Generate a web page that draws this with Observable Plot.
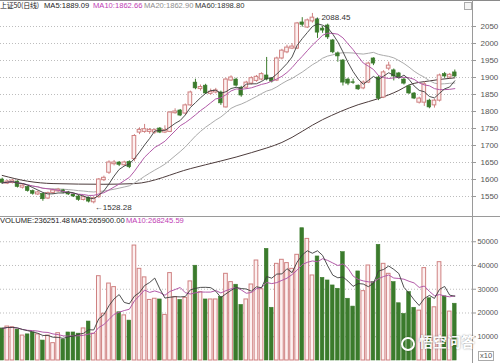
<!DOCTYPE html>
<html><head><meta charset="utf-8">
<script src="https://cdn.jsdelivr.net/npm/d3@7"></script>
<script src="https://cdn.jsdelivr.net/npm/@observablehq/plot@0.6"></script>
<style>
body{margin:0;background:#fff;}
#wrap{position:relative;width:500px;height:363px;overflow:hidden;font-family:"Liberation Sans",Arial,sans-serif;background:#fff;}
.t{position:absolute;font-size:7.6px;white-space:nowrap;line-height:1;}
.ln{position:absolute;background:#9a9a9a;}
#price,#vol{position:absolute;left:0;}
#price{top:0;} #vol{top:216px;}
</style></head><body><div id="wrap"><div id="price"></div><div id="vol"></div></div>
<script>
// ---- data ----
const opens = [1600,1588,1590,1594,1576,1578,1566,1556,1558,1544,
  1560,1565,1568,1562,1556,1550,1540,1546,1533,1548,
  1598,1620,1645,1650,1642,1652,1660,1738,1740,1740,
  1738,1750,1738,1740,1795,1803,1794,1818,1885,1866,
  1876,1852,1856,1856,1812,1891,1894,1870,1870,1882,
  1890,1894,1906,1897,1891,1956,1974,1985,1985,2062,
  2047,2065,2070,2044,2053,2009,1971,1950,1894,1886,
  1876,1868,1885,1956,1900,1841,1926,1921,1912,1894,
  1874,1853,1826,1826,1832,1818,1832,1910,1900,1915];
const closes = [1590,1594,1597,1578,1582,1566,1558,1562,1542,1560,
  1568,1570,1562,1556,1550,1540,1548,1535,1545,1600,
  1605,1650,1650,1643,1650,1636,1728,1746,1748,1746,
  1745,1738,1745,1797,1800,1788,1818,1856,1868,1872,
  1853,1858,1862,1824,1894,1900,1876,1847,1885,1898,
  1902,1910,1894,1888,1956,1979,1988,1991,2059,2055,
  2068,2076,2032,2038,2018,1974,1962,1885,1882,1884,
  1865,1885,1941,1941,1838,1915,1935,1903,1900,1882,
  1853,1838,1838,1880,1812,1832,1906,1903,1908,1903];
const highs = [1604,1598,1600,1596,1585,1580,1569,1566,1560,1563,
  1572,1574,1571,1565,1559,1553,1552,1549,1548,1603,
  1610,1655,1656,1653,1654,1655,1732,1752,1762,1750,
  1749,1753,1758,1800,1808,1806,1822,1860,1895,1878,
  1880,1866,1868,1860,1898,1905,1898,1874,1889,1902,
  1906,1914,1959,1900,1960,1983,1995,2000,2062,2076,
  2072,2088.45,2075,2050,2057,2012,1975,1953,1898,1895,
  1878,1890,1945,1958,1905,1920,1945,1925,1915,1898,
  1878,1856,1842,1886,1836,1836,1910,1915,1912,1922];
const lows = [1586,1585,1587,1575,1572,1563,1554,1553,1536,1541,
  1556,1562,1558,1553,1547,1536,1537,1531,1528.28,1545,
  1594,1615,1640,1638,1638,1632,1652,1732,1736,1733,
  1733,1735,1735,1738,1792,1785,1790,1815,1864,1860,
  1850,1848,1852,1818,1810,1888,1872,1842,1865,1878,
  1886,1890,1890,1884,1888,1952,1970,1982,1982,2048,
  2044,2060,2015,2030,2012,1970,1945,1875,1876,1880,
  1862,1864,1882,1935,1832,1838,1920,1890,1896,1878,
  1850,1835,1822,1815,1808,1810,1828,1898,1896,1900];
const volumes = [13500,14300,14000,13000,10500,11000,11800,11000,8400,10500,
  7300,11500,8800,11800,11800,11300,13500,16400,11300,35500,
  19700,32400,30900,20300,19000,16800,48400,38600,35000,25500,
  26000,25700,19200,36800,26700,25500,26400,33300,39900,28800,
  25700,25700,25700,26700,36500,33000,31900,23400,25700,32000,
  42100,30000,47000,22200,40700,42400,41000,38600,44500,55700,
  51200,35800,43800,34800,33700,31600,30200,45600,26000,22700,
  37500,29200,40000,33000,48700,40700,36500,33000,24100,19600,
  28800,22200,21000,38900,26200,22400,41400,27000,20600,23900];
// MA60 line (index, value)
const ma60Idx = [0,5,10,20,26,37,49,55,63,70,74,78,80,84,89];
const ma60Val = [1612,1595,1588,1586,1588,1632,1679,1709,1776,1820,1838,1862,1878,1890,1899];
const priceTicks = [1550,1600,1650,1700,1750,1800,1850,1900,1950,2050,2000];
const volTicks = [10000,20000,30000,40000,50000];
const hiLabel = {i: 61, v: 2088.45, text: "←2088.45"};
const loLabel = {i: 18, v: 1528.28, text: "←1528.28"};

// ---- build ----
const rows = opens.map((o, i) => ({i, open: o, close: closes[i], high: highs[i], low: lows[i], vol: volumes[i], up: closes[i] >= o}));
const ma60 = ma60Idx.map((i, k) => ({i, v: ma60Val[k]}));
const xDomain = [-0.334, 92.48];
const UP_S = "#cf8080", UP_F = "#fdf1f1", DN = "#3b7b2c";
const C5 = "#3c3c3c", C10 = "#b25aa8", C20 = "#ababab", C60 = "#4d3c3c";
const font = {fontFamily: "Liberation Sans, Arial, sans-serif", fontSize: "8px", background: "transparent", overflow: "visible"};

const price = Plot.plot({
  width: 500, height: 216, marginLeft: 0, marginRight: 28, marginTop: 0, marginBottom: 0,
  style: font,
  x: {domain: xDomain, axis: null},
  y: {domain: [1491.2, 2126.5], axis: null},
  marks: [
    Plot.gridY(priceTicks, {stroke: "#bdbdbd", strokeOpacity: 1, strokeDasharray: "1,2"}),
    Plot.axisY(priceTicks, {anchor: "right", tickSize: 3, tickPadding: 5, stroke: "#999", fill: "#555", fontSize: 8, label: null, tickFormat: d => String(d)}),
    Plot.lineY(ma60, {x: "i", y: "v", stroke: C60, strokeWidth: 1, curve: "monotone-x"}),
    Plot.lineY(rows, Plot.windowY({k: 20, anchor: "end"}, {x: "i", y: "close", stroke: C20, strokeWidth: 1})),
    Plot.ruleX(rows, {filter: d => d.up, x: "i", y1: "low", y2: "high", stroke: UP_S, strokeWidth: 1}),
    Plot.ruleX(rows, {filter: d => !d.up, x: "i", y1: "low", y2: "high", stroke: DN, strokeWidth: 1}),
    Plot.rect(rows, {filter: d => d.up, x1: d => d.i - 0.36, x2: d => d.i + 0.36, y1: "open", y2: "close", fill: UP_F, stroke: UP_S, strokeWidth: 1}),
    Plot.rect(rows, {filter: d => !d.up, x1: d => d.i - 0.36, x2: d => d.i + 0.36, y1: "open", y2: "close", fill: DN, stroke: DN, strokeWidth: 0.6}),
    Plot.lineY(rows, Plot.windowY({k: 10, anchor: "end"}, {x: "i", y: "close", stroke: C10, strokeWidth: 1})),
    Plot.lineY(rows, Plot.windowY({k: 5, anchor: "end"}, {x: "i", y: "close", stroke: C5, strokeWidth: 0.9})),
    Plot.text([hiLabel, loLabel], {x: "i", y: "v", text: "text", textAnchor: "start", dx: 1, dy: 4, fill: "#333", fontSize: 8})
  ]
});
document.getElementById("price").appendChild(price);

const vol = Plot.plot({
  width: 500, height: 147, marginLeft: 0, marginRight: 28, marginTop: 0, marginBottom: 0,
  style: font,
  x: {domain: xDomain, axis: null},
  y: {domain: [-1263, 60631], axis: null},
  marks: [
    Plot.gridY(volTicks, {stroke: "#bdbdbd", strokeOpacity: 1, strokeDasharray: "1,2"}),
    Plot.axisY(volTicks, {anchor: "right", tickSize: 3, tickPadding: 2, stroke: "#999", fill: "#555", fontSize: 7.4, label: null, tickFormat: d => String(d)}),
    Plot.rect(rows, {filter: d => d.up, x1: d => d.i - 0.36, x2: d => d.i + 0.36, y1: 0, y2: "vol", fill: UP_F, stroke: UP_S, strokeWidth: 1}),
    Plot.rect(rows, {filter: d => !d.up, x1: d => d.i - 0.36, x2: d => d.i + 0.36, y1: 0, y2: "vol", fill: DN, stroke: DN, strokeWidth: 0.6}),
    Plot.lineY(rows, Plot.windowY({k: 10, anchor: "end"}, {x: "i", y: "vol", stroke: C10, strokeWidth: 1})),
    Plot.lineY(rows, Plot.windowY({k: 5, anchor: "end"}, {x: "i", y: "vol", stroke: C5, strokeWidth: 0.9}))
  ]
});
document.getElementById("vol").appendChild(vol);

// ---- frame lines and texts ----
const wrap = document.getElementById("wrap");
function line(l, t, w, h, c) { const d = document.createElement("div"); d.className = "ln"; Object.assign(d.style, {left: l + "px", top: t + "px", width: w + "px", height: h + "px"}); if (c) d.style.background = c; wrap.appendChild(d); }
line(0, 0, 500, 1, "#8a8a8a");
line(0, 216, 500, 1, "#9a9a9a");
line(472, 0, 1, 363, "#9a9a9a");
function txt(s, l, t, c, extra) { const d = document.createElement("div"); d.className = "t"; d.textContent = s; Object.assign(d.style, {left: l + "px", top: t + "px", color: c}, extra || {}); wrap.appendChild(d); return d; }
txt("上证50(日线)", 0, 1.5, "#222", {fontFamily: "'Noto Sans CJK SC', sans-serif", fontSize: "7px", letterSpacing: "-0.2px"});
txt("MA5:1889.09", 44, 2, "#222");
txt("MA10:1862.66", 93, 2, "#c03cb4");
txt("MA20:1862.90", 144, 2, "#8c8c8c");
txt("MA60:1898.80", 195, 2, "#333");
txt("VOLUME:236251.48", 0, 216.5, "#222");
txt("MA5:265900.00", 71, 216.5, "#222");
txt("MA10:268245.59", 126, 216.5, "#c03cb4");
txt("x10", 478, 351, "#555", {fontSize: "7.5px", border: "1px solid #aaa", padding: "0 1px"});
const ic = document.createElement("div");
Object.assign(ic.style, {position: "absolute", left: "464px", top: "2px", width: "6px", height: "6px", border: "1px solid #aaa", background: "#f4f4f4"});
wrap.appendChild(ic);
txt("悟空问答", 419, 334, "#ffffff", {fontSize: "14px", fontFamily: "'Noto Sans CJK SC', sans-serif", fontWeight: "bold", textShadow: "0 0 2px rgba(0,0,0,0.45)", opacity: "0.95"});
const logo = document.createElement("div");
Object.assign(logo.style, {position: "absolute", left: "401px", top: "337px", width: "14px", height: "14px", borderRadius: "50%", border: "2px solid #fff", boxShadow: "0 0 2px rgba(0,0,0,0.4)", boxSizing: "border-box"});
wrap.appendChild(logo);
</script>
</body></html>
